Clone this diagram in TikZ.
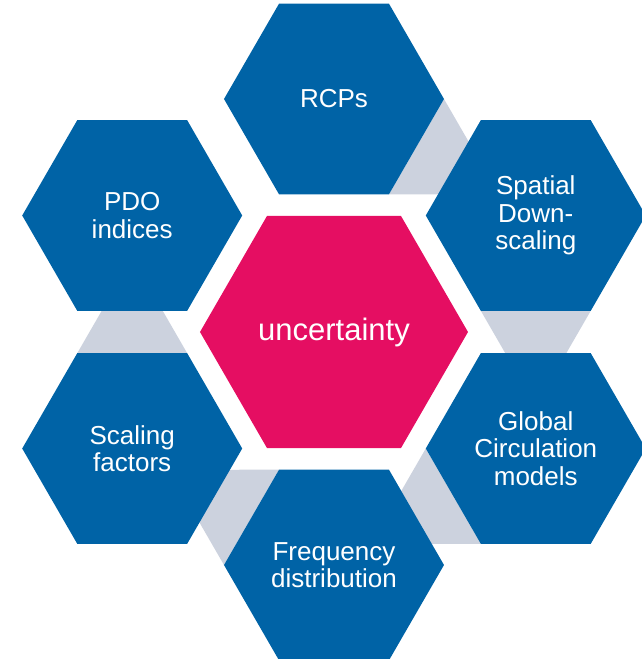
\documentclass[tikz,border=0pt]{standalone}
\usepackage{fontspec}
\setmainfont{Liberation Sans}
\usetikzlibrary{shapes.geometric,calc,backgrounds}

\definecolor{hexblue}{RGB}{0,99,166}
\definecolor{hexpink}{RGB}{229,14,98}
\definecolor{linkgrey}{RGB}{204,210,222}

\tikzset{
	hexa/.style={regular polygon, regular polygon sides=6, minimum size=220pt,
		inner sep=0pt, outer sep=0pt, fill=hexblue, text=white, align=center,
		font=\fontsize{26}{27.5}\selectfont},
	core/.style={hexa, minimum size=268pt, fill=hexpink, font=\fontsize{31}{34}\selectfont},
	link/.style={fill=linkgrey}
}

\begin{document}
\begin{tikzpicture}[x=1pt, y=1pt]
		\useasboundingbox (-334,-327) rectangle (308,332);
		%centre
		\node[core] (unc) at (0,0) {uncertainty};
		
		%ring of factors
		\node[hexa] (rcp) at (90:233) {RCPs};
		\node[hexa] (spd) at (30:233) {Spatial\\Down-\\scaling};
		\node[hexa] (gcm) at (-30:233) {Global\\Circulation\\models};
		\node[hexa] (freq) at (-90:233) {Frequency\\distribution};
		\node[hexa] (scal) at (-150:233) {Scaling\\factors};
		\node[hexa] (pdo) at (150:233) {PDO\\indices};
		
		%grey links behind
		\begin{pgfonlayer}{background}
			\foreach \a/\b/\p/\q in {rcp/spd/0/300, spd/gcm/300/240, gcm/freq/240/180, freq/scal/180/120, scal/pdo/120/60}{
				\fill[link] (\a.\p) -- ($(\a)!190.5pt!(\b)$) -- (\a.\q) -- cycle;
			}
		\end{pgfonlayer}
\end{tikzpicture}
\end{document}
